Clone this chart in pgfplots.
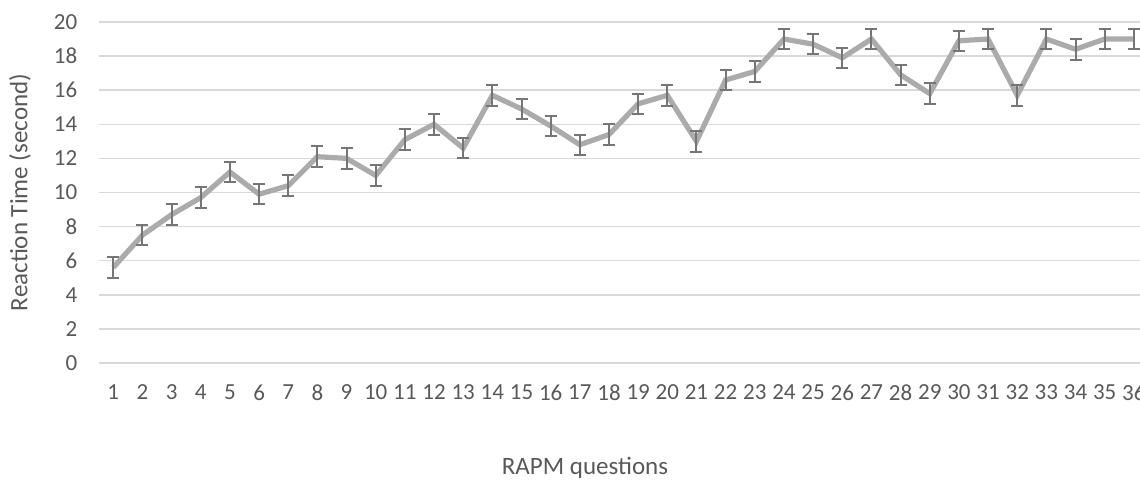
\documentclass[border=0pt]{standalone}
\usepackage{fontspec}
\setmainfont{Carlito}
\usepackage{pgfplots}
\usepackage{pgfplotstable}
\pgfplotsset{compat=1.18}

\definecolor{txtgray}{HTML}{595959}
\definecolor{gridgray}{HTML}{D9D9D9}
\definecolor{linegray}{HTML}{ABABAB}
\definecolor{errgray}{HTML}{767676}

% question, mean reaction time, error
\pgfplotstableread{
q  rt    err
1  5.6   0.6
2  7.5   0.6
3  8.7   0.6
4  9.7   0.6
5  11.2  0.6
6  9.9   0.6
7  10.4  0.6
8  12.1  0.6
9  12.0  0.6
10 11.0  0.6
11 13.1  0.6
12 14.0  0.6
13 12.6  0.6
14 15.7  0.6
15 14.9  0.6
16 13.9  0.6
17 12.8  0.6
18 13.4  0.6
19 15.2  0.6
20 15.7  0.6
21 13.0  0.6
22 16.6  0.6
23 17.1  0.6
24 19.0  0.6
25 18.7  0.6
26 17.9  0.6
27 19.0  0.6
28 16.9  0.6
29 15.8  0.6
30 18.9  0.6
31 19.0  0.6
32 15.7  0.6
33 19.0  0.6
34 18.4  0.6
35 19.0  0.6
36 19.0  0.6
}\rtdata

\begin{document}
\begin{tikzpicture}
  \begin{axis}[
    at={(49.35pt,58.5pt)}, anchor=south west,
    scale only axis,
    width=520.65pt, height=170.5pt,
    xmin=0.5, xmax=36.21,
    ymin=0, ymax=20,
    xtick={1,...,36},
    ytick={0,2,...,20},
    axis line style={draw=none},
    major tick length=0pt,
    ymajorgrids,
    grid style={gridgray, line width=0.75pt},
    /pgf/number format/assume math mode=true,
    tick label style={font=\fontsize{11.5}{13}\selectfont, text=txtgray},
    xticklabel style={yshift=-7.5pt},
    yticklabel style={xshift=-7.2pt},
    label style={font=\fontsize{12.5}{14}\selectfont, text=txtgray},
    xlabel={RAPM questions},
    xlabel style={at={(axis description cs:0.467,-0.308)}, anchor=center},
    ylabel={Reaction Time (second)},
    ylabel style={at={(axis description cs:-0.0756,0.5)}, anchor=center},
    clip=false,
  ]
    \addplot[
      color=linegray, line width=2.6pt, mark=none,
      error bars/.cd,
        y dir=both, y explicit,
        error bar style={errgray, line width=1pt},
        error mark options={errgray, line width=1pt, mark size=3pt, rotate=90},
    ] table[x=q, y=rt, y error=err] {\rtdata};
  \end{axis}
  \pgfresetboundingbox
  \useasboundingbox (0,0) rectangle (570pt,240pt);
\end{tikzpicture}
\end{document}
